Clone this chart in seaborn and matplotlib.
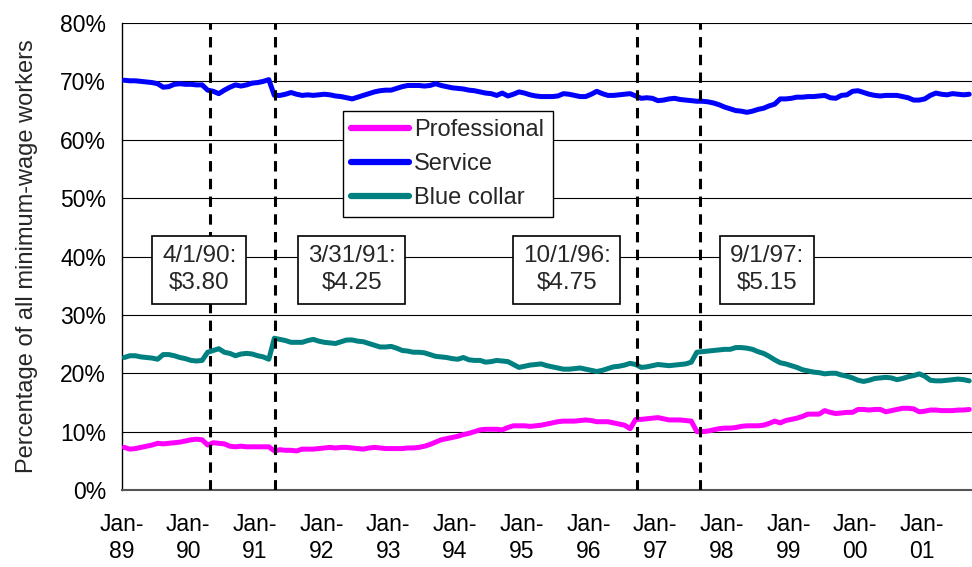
import numpy as np
import pandas as pd
import seaborn as sns
import matplotlib.pyplot as plt

# ---- data (monthly, Jan-1989 .. Sep-2001), percent of all minimum-wage workers
professional = [
    7.3, 7.0, 7.1, 7.3, 7.5, 7.7, 8.0, 7.9, 8.0, 8.1, 8.2, 8.4,
    8.6, 8.7, 8.6, 7.7, 8.1, 8.0, 7.9, 7.5, 7.4, 7.5, 7.4, 7.4,
    7.4, 7.4, 7.4, 6.7, 6.9, 6.8, 6.8, 6.7, 7.0, 7.0, 7.0, 7.1,
    7.2, 7.3, 7.2, 7.3, 7.3, 7.2, 7.1, 7.0, 7.2, 7.3, 7.2, 7.1,
    7.1, 7.1, 7.1, 7.2, 7.2, 7.3, 7.5, 7.8, 8.2, 8.6, 8.8, 9.0,
    9.2, 9.5, 9.7, 10.0, 10.3, 10.4, 10.4, 10.4, 10.3, 10.7, 11.0, 11.0,
    11.0, 10.9, 11.0, 11.1, 11.3, 11.5, 11.7, 11.8, 11.8, 11.8, 11.9, 12.0,
    11.9, 11.7, 11.7, 11.7, 11.5, 11.3, 11.1, 10.5, 12.1, 12.1, 12.2, 12.3,
    12.4, 12.2, 12.0, 12.0, 12.0, 11.9, 11.8, 10.0, 10.0, 10.1, 10.3, 10.5,
    10.6, 10.6, 10.7, 10.9, 11.0, 11.0, 11.0, 11.1, 11.4, 11.8, 11.5, 11.9,
    12.1, 12.3, 12.6, 13.0, 13.0, 13.0, 13.6, 13.3, 13.1, 13.2, 13.3, 13.3,
    13.8, 13.8, 13.7, 13.8, 13.8, 13.4, 13.6, 13.8, 14.0, 14.0, 13.9, 13.4,
    13.5, 13.7, 13.7, 13.6, 13.6, 13.6, 13.7, 13.7, 13.8,
]
service = [
    70.2, 70.1, 70.1, 70.0, 69.9, 69.8, 69.6, 69.0, 69.1, 69.5, 69.6, 69.5,
    69.5, 69.4, 69.4, 68.5, 68.3, 67.9, 68.5, 69.0, 69.4, 69.2, 69.4, 69.7,
    69.8, 70.0, 70.3, 67.6, 67.6, 67.8, 68.1, 67.8, 67.6, 67.7, 67.6, 67.7,
    67.8, 67.7, 67.5, 67.4, 67.2, 67.0, 67.3, 67.6, 67.9, 68.2, 68.4, 68.5,
    68.5, 68.8, 69.1, 69.3, 69.3, 69.3, 69.2, 69.3, 69.6, 69.3, 69.1, 68.9,
    68.8, 68.7, 68.5, 68.4, 68.2, 68.0, 67.9, 67.6, 68.0, 67.5, 67.8, 68.2,
    68.0, 67.7, 67.5, 67.4, 67.4, 67.4, 67.5, 67.9, 67.8, 67.6, 67.4, 67.4,
    67.8, 68.3, 67.9, 67.6, 67.6, 67.7, 67.8, 67.9, 67.5, 67.1, 67.2, 67.1,
    66.7, 66.8, 67.0, 67.1, 66.9, 66.8, 66.7, 66.6, 66.6, 66.5, 66.3, 66.0,
    65.6, 65.3, 65.0, 64.9, 64.7, 64.9, 65.2, 65.4, 65.8, 66.1, 67.0, 67.0,
    67.1, 67.3, 67.3, 67.4, 67.4, 67.5, 67.6, 67.2, 67.1, 67.6, 67.7, 68.3,
    68.4, 68.1, 67.8, 67.6, 67.5, 67.6, 67.6, 67.6, 67.4, 67.2, 66.8, 66.8,
    67.0, 67.6, 68.0, 67.8, 67.7, 67.9, 67.8, 67.7, 67.8,
]
blue_collar = [
    22.7, 23.0, 23.0, 22.8, 22.7, 22.6, 22.4, 23.2, 23.2, 23.0, 22.7, 22.5,
    22.2, 22.1, 22.2, 23.6, 23.9, 24.2, 23.6, 23.4, 23.0, 23.3, 23.4, 23.3,
    23.0, 22.8, 22.4, 26.0, 25.8, 25.6, 25.3, 25.3, 25.3, 25.6, 25.8, 25.5,
    25.3, 25.2, 25.1, 25.4, 25.7, 25.7, 25.5, 25.4, 25.1, 24.8, 24.5, 24.5,
    24.6, 24.3, 23.9, 23.8, 23.6, 23.6, 23.5, 23.2, 22.9, 22.8, 22.7, 22.5,
    22.4, 22.7, 22.3, 22.2, 22.2, 21.9, 22.0, 22.2, 22.1, 22.0, 21.5, 21.0,
    21.2, 21.4, 21.5, 21.6, 21.3, 21.1, 20.9, 20.7, 20.7, 20.8, 20.9, 20.7,
    20.5, 20.3, 20.5, 20.8, 21.1, 21.2, 21.4, 21.7, 21.5, 21.0, 21.1, 21.3,
    21.5, 21.4, 21.3, 21.4, 21.5, 21.6, 21.9, 23.6, 23.7, 23.8, 23.9, 24.0,
    24.1, 24.1, 24.4, 24.4, 24.3, 24.1, 23.7, 23.4, 22.9, 22.3, 21.8, 21.6,
    21.3, 21.0, 20.6, 20.4, 20.2, 20.1, 19.9, 20.0, 20.0, 19.7, 19.5, 19.2,
    18.8, 18.6, 18.8, 19.1, 19.2, 19.3, 19.2, 18.9, 19.1, 19.4, 19.6, 19.9,
    19.5, 18.8, 18.7, 18.7, 18.8, 18.9, 19.0, 18.9, 18.7,
]
series_names = ["Professional", "Service", "Blue collar"]
series_colors = ["#FF00FF", "#0000FF", "#008080"]
tick_labels = ["Jan-\n89", "Jan-\n90", "Jan-\n91", "Jan-\n92", "Jan-\n93", "Jan-\n94",
               "Jan-\n95", "Jan-\n96", "Jan-\n97", "Jan-\n98", "Jan-\n99", "Jan-\n00", "Jan-\n01"]
event_labels = ["4/1/90:\n$3.80", "3/31/91:\n$4.25", "10/1/96:\n$4.75", "9/1/97:\n$5.15"]
event_x = [16.0, 27.7, 92.8, 104.1]        # month position of dashed lines
box_x = [14.0, 41.4, 80.1, 116.1]          # month position of label boxes
box_y = 37.7

n = len(service)
idx = np.arange(n) + 0.5
df = pd.concat([
    pd.DataFrame({"x": idx, "value": vals, "Occupation": name})
    for name, vals in zip(series_names, [professional, service, blue_collar])
])

sns.set_style("white")
plt.rcParams["font.family"] = ["Liberation Sans", "DejaVu Sans"]

fig = plt.figure(figsize=(9.72, 5.67), dpi=100)
ax = fig.add_axes([0.125, 0.1358, 0.875, 0.8236])

# gridlines
for v in range(10, 81, 10):
    ax.axhline(v, color="black", lw=0.8, zorder=0)

sns.lineplot(data=df, x="x", y="value", hue="Occupation", palette=series_colors,
             hue_order=series_names, lw=3.6, ax=ax, legend=True, zorder=3)

for xv in event_x:
    ax.axvline(xv, color="black", lw=2.2, ls=(0, (3.4, 2.4)), zorder=4)

for lab, bx in zip(event_labels, box_x):
    ax.text(bx, box_y, lab, ha="center", va="center", fontsize=17.5, linespacing=1.3,
            zorder=6,
            bbox=dict(boxstyle="square,pad=0.4", fc="white", ec="black", lw=1.2))

ax.set_xlim(0, n)
ax.set_ylim(0, 80)
ax.set_yticks(range(0, 81, 10))
ax.set_yticklabels([f"{v}%" for v in range(0, 81, 10)], fontsize=16.5)
ax.set_xticks(np.arange(0, n, 12))
ax.set_xticklabels(tick_labels, fontsize=16.5, linespacing=1.25)
ax.tick_params(axis="x", direction="inout", length=9, width=1, pad=12, colors="black")
ax.tick_params(axis="y", direction="out", length=6, width=1, pad=5, colors="black")
ax.tick_params(axis="both", labelcolor="black")

for s in ["top", "right"]:
    ax.spines[s].set_visible(False)
ax.spines["left"].set_color("black")
ax.spines["bottom"].set_color("#555555")
ax.spines["bottom"].set_linewidth(1.5)
ax.spines["left"].set_linewidth(1.0)

ax.set_xlabel("")
ax.set_ylabel("Percentage of all minimum-wage workers", fontsize=17)
ax.yaxis.set_label_coords(-0.098, 0.5)

leg = ax.legend(loc="upper left", bbox_to_anchor=(343 / 972, 1 - 111 / 567),
                bbox_transform=fig.transFigure, fontsize=17, frameon=True,
                fancybox=False, edgecolor="black", framealpha=1,
                handlelength=2.45, handletextpad=0.22, labelspacing=0.5,
                borderpad=0.35, borderaxespad=0)
leg.get_frame().set_linewidth(1.0)
leg.set_zorder(7)
for h in leg.get_lines():
    h.set_linewidth(4.5)

fig.savefig("out.png", dpi=100)
